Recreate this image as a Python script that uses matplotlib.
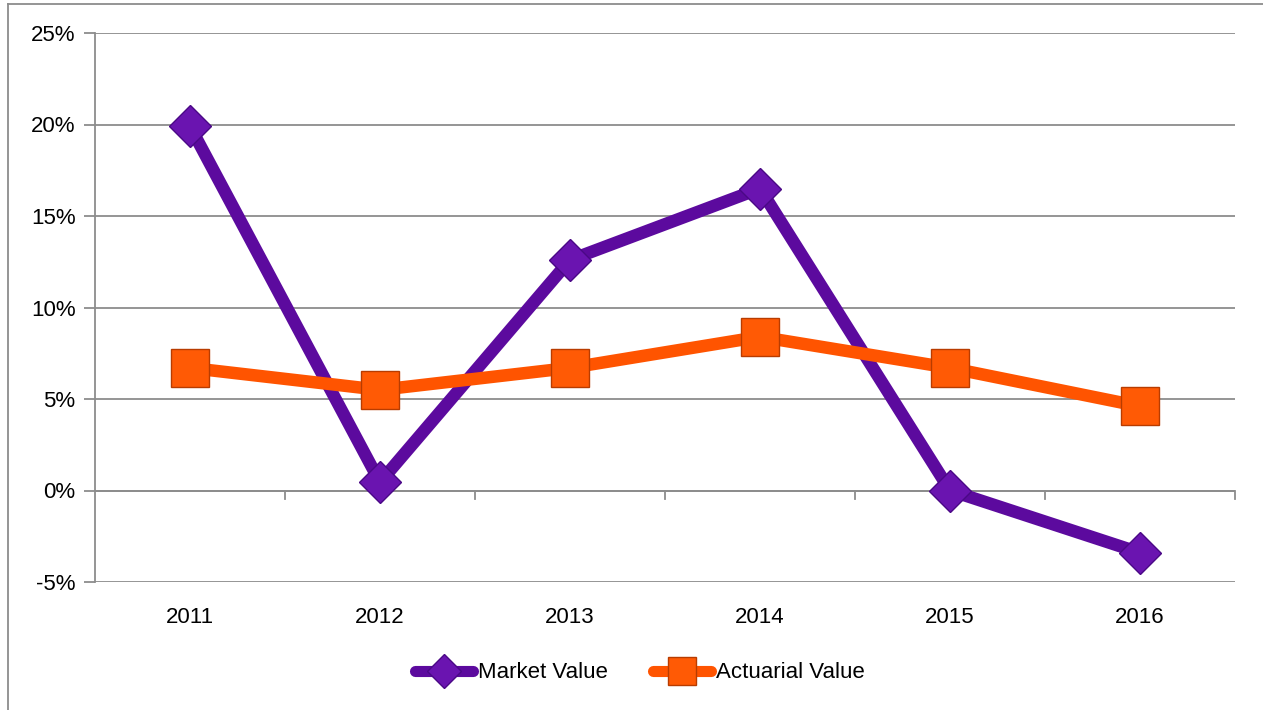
import matplotlib
matplotlib.use("Agg")
import matplotlib.pyplot as plt
from matplotlib.lines import Line2D
from matplotlib.ticker import FuncFormatter

years = ["2011", "2012", "2013", "2014", "2015", "2016"]
market_value = [19.9, 0.45, 12.6, 16.5, 0.0, -3.4]
actuarial_value = [6.7, 5.5, 6.7, 8.4, 6.7, 4.6]

purple = "#5c0a9e"
orange = "#ff5400"
grid_c = "#8c8c8c"

plt.rcParams['font.family'] = ['Liberation Sans', 'DejaVu Sans']

fig = plt.figure(figsize=(12.63, 7.10), dpi=100)
ax = fig.add_axes([95/1263, 1-582/710, (1235-95)/1263, (582-33)/710])

x = list(range(len(years)))
ax.plot(x, market_value, color=purple, lw=9, marker='D', ms=21,
        mfc="#6a14b0", mec="#4a0886", mew=1.0, zorder=3,
        label="Market Value")
ax.plot(x, actuarial_value, color=orange, lw=9, marker='s', ms=27,
        mfc="#ff5a05", mec="#b83c00", mew=1.0, zorder=4,
        label="Actuarial Value")

ax.set_xlim(-0.5, 5.5)
ax.set_ylim(-5, 25)
ax.set_yticks(range(-5, 30, 5))
ax.yaxis.set_major_formatter(FuncFormatter(lambda v, p: f"{int(v)}%"))
ax.yaxis.grid(True, color=grid_c, lw=1.3)
ax.set_axisbelow(True)
ax.tick_params(axis='y', length=8, width=1.3, color=grid_c, labelsize=16, pad=6)

ax.set_xticks(x)
ax.set_xticklabels(years)
ax.tick_params(axis='x', length=0, labelsize=16, pad=18)

for s in ['top', 'right', 'bottom']:
    ax.spines[s].set_visible(False)
ax.spines['left'].set_color(grid_c)
ax.spines['left'].set_linewidth(1.3)

# category axis at 0% with ticks between categories
ax.axhline(0, color=grid_c, lw=1.3, zorder=1)
for b in [i + 0.5 for i in range(len(years))]:
    ax.plot([b, b], [0, -0.45], color=grid_c, lw=1.3, zorder=1, clip_on=False)

# chart area border (left and top)
fig.add_artist(Line2D([8/1263, 8/1263], [0, 1-4/710], color=grid_c, lw=1.3))
fig.add_artist(Line2D([8/1263, 1], [1-4/710, 1-4/710], color=grid_c, lw=1.3))

handles = [
    Line2D([], [], color=purple, lw=8, marker='D', ms=17, mfc="#6a14b0", mec="#4a0886",
           solid_capstyle='round'),
    Line2D([], [], color=orange, lw=8, marker='s', ms=20, mfc="#ff5a05", mec="#b83c00",
           solid_capstyle='round'),
]
fig.legend(handles, ["Market Value", "Actuarial Value"], loc='center',
           bbox_to_anchor=(640/1263, 1-673/710), ncol=2, frameon=False,
           fontsize=16, handlelength=2.6, handletextpad=0.25, columnspacing=2.0)

fig.savefig("out.png", dpi=100)
